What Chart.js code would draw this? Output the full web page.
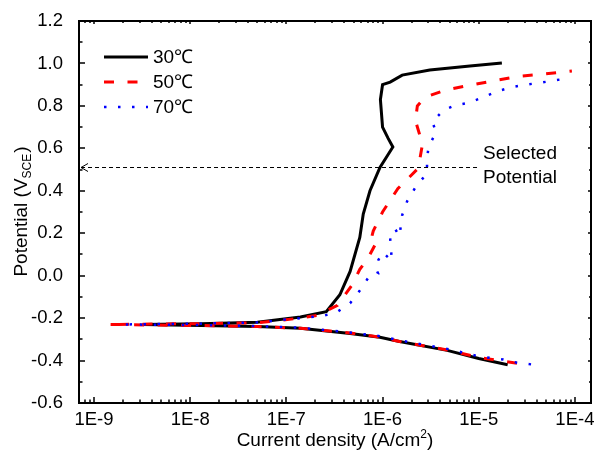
<!DOCTYPE html>
<html>
<head>
<meta charset="utf-8">
<script src="https://cdn.jsdelivr.net/npm/chart.js@4.4.1/dist/chart.umd.min.js"></script>
<style>
    body { margin: 0; background: #ffffff; }
    #wrap { width: 597px; height: 452px; }
</style>
</head>
<body>
<div id="wrap"><canvas id="polChart"></canvas></div>
<script>
// Series labels
let seriesLabels = ['30℃', '50℃', '70℃'];

// 30 ℃ curve, in scan order (cathodic branch -> Ecorr -> anodic branch)
let cur30 = [2.0e-5, 1.0e-5, 4.7e-6, 1.5e-6, 9.4e-7, 4.6e-7, 1.4e-7, 5e-8, 1.3e-8, 3.2e-9,
    1.3e-8, 5e-8, 1.4e-7, 2.6e-7, 3.6e-7, 4.6e-7, 5.8e-7, 6.3e-7, 7.4e-7, 9.4e-7,
    1.28e-6, 1.14e-6, 1.0e-6, 9.5e-7, 1.0e-6, 1.2e-6, 1.6e-6, 3.1e-6, 8.1e-6, 1.74e-5];
let pot30 = [-0.42, -0.39, -0.352, -0.31, -0.29, -0.272, -0.248, -0.24, -0.235, -0.23,
    -0.226, -0.22, -0.195, -0.17, -0.09, 0.02, 0.18, 0.29, 0.40, 0.51,
    0.606, 0.648, 0.70, 0.83, 0.90, 0.912, 0.945, 0.969, 0.988, 1.002];

// 50 ℃ curve
let cur50 = [2.5e-5, 1.0e-5, 4.7e-6, 1.5e-6, 9.4e-7, 4.6e-7, 1.4e-7, 5e-8, 1.3e-8, 1.4e-9,
    1.3e-8, 5e-8, 1.4e-7, 2.1e-7, 3.4e-7, 4.8e-7, 5.8e-7, 6.6e-7, 7.4e-7, 8.3e-7,
    7.4e-7, 8.0e-7, 1.0e-6, 1.44e-6, 2.35e-6, 2.6e-6, 2.2e-6, 2.3e-6, 2.75e-6, 4.5e-6,
    8.7e-6, 1.5e-5, 2.7e-5, 4.7e-5, 9.3e-5];
let pot50 = [-0.413, -0.385, -0.35, -0.31, -0.29, -0.27, -0.248, -0.24, -0.235, -0.23,
    -0.226, -0.222, -0.2, -0.187, -0.14, -0.045, 0.03, 0.065, 0.10, 0.143,
    0.15, 0.21, 0.30, 0.41, 0.506, 0.62, 0.73, 0.80, 0.84, 0.875,
    0.90, 0.92, 0.94, 0.95, 0.964];

// 70 ℃ curve
let cur70 = [3.5e-5, 2.5e-5, 1.8e-5, 1.0e-5, 4.7e-6, 1.5e-6, 9.4e-7, 4.6e-7, 1.4e-7, 5e-8,
    1.3e-8, 1.95e-9, 1.3e-8, 5e-8, 1.4e-7, 2.4e-7, 3.4e-7, 4.6e-7, 5.8e-7, 7.1e-7,
    9.0e-7, 8.5e-7, 9.0e-7, 1.0e-6, 1.25e-6, 1.2e-6, 1.35e-6, 1.5e-6, 1.6e-6, 1.8e-6,
    2.2e-6, 2.9e-6, 2.9e-6, 3.0e-6, 3.6e-6, 3.3e-6, 4.3e-6, 5.8e-6, 7.8e-6, 1.1e-5,
    1.6e-5, 2.2e-5, 3.1e-5, 4.5e-5, 6.1e-5, 8.5e-5];
let pot70 = [-0.418, -0.41, -0.395, -0.38, -0.345, -0.305, -0.285, -0.268, -0.245, -0.238,
    -0.233, -0.23, -0.226, -0.22, -0.2, -0.19, -0.17, -0.13, -0.07, -0.01,
    0.01, 0.035, 0.072, 0.11, 0.07, 0.176, 0.22, 0.186, 0.285, 0.35,
    0.417, 0.483, 0.544, 0.606, 0.676, 0.724, 0.78, 0.804, 0.814, 0.84,
    0.87, 0.888, 0.90, 0.91, 0.92, 0.93];

// Axis ticks
let xTickValues = [1e-9, 1e-8, 1e-7, 1e-6, 1e-5, 1e-4];
let xTickLabels = ['1E-9', '1E-8', '1E-7', '1E-6', '1E-5', '1E-4'];
let yMin = -0.6;
let yMax = 1.2;
let yStep = 0.2;

// Annotation: selected potential arrow
let selectedPotential = 0.51;
let arrowStartCurrent = 9.6e-6;
let noteLines = ['Selected', 'Potential'];

let fontFamily = 'Arial, "Liberation Sans", sans-serif';

// Turns two arrays into the {x, y} points that Chart.js expects
function toPoints(xs, ys) {
    let pts = [];
    for (let i = 0; i < xs.length; i++) {
        pts.push({ x: xs[i], y: ys[i] });
    }
    return pts;
}

// Draws the frame, inward ticks, legend, axis titles and the arrow note
let decorPlugin = {
    id: 'decor',
    afterDraw: function (chart) {
        let ctx = chart.ctx;
        let area = chart.chartArea;
        let xs = chart.scales.x;
        let ys = chart.scales.y;
        let L = Math.round(area.left);
        let R = Math.round(area.right);
        let T = Math.round(area.top);
        let B = Math.round(area.bottom);

        ctx.save();
        ctx.setLineDash([]);
        ctx.globalAlpha = 1;
        ctx.globalCompositeOperation = 'source-over';
        ctx.strokeStyle = '#000';
        ctx.fillStyle = '#000';

        // Frame, as filled bars
        ctx.fillRect(L - 1, T - 1, R - L + 2, 2);
        ctx.fillRect(L - 1, B - 1, R - L + 2, 2);
        ctx.fillRect(L - 1, T - 1, 2, B - T + 2);
        ctx.fillRect(R - 1, T - 1, 2, B - T + 2);

        // Y ticks (major every 0.2, minor every 0.1)
        for (let k = 0; k <= Math.round((yMax - yMin) / (yStep / 2)); k++) {
            let v = yMin + k * yStep / 2;
            let py = Math.round(ys.getPixelForValue(v));
            let major = k % 2 === 0;
            ctx.fillRect(L, py - 0.75, major ? 6 : 3.5, 1.5);
            ctx.fillRect(R - (major ? 3 : 2), py - 0.75, major ? 3 : 2, 1.5);
        }

        // X ticks (decades plus 2..9 minors)
        for (let e = -10; e <= -4; e++) {
            for (let m = 1; m <= 9; m++) {
                let v = m * Math.pow(10, e);
                let px = xs.getPixelForValue(v);
                if (px < L + 1 || px > R - 1) {
                    continue;
                }
                px = Math.round(px);
                let major = m === 1;
                ctx.fillRect(px - 0.75, B - (major ? 6 : 3.5), 1.5, major ? 6 : 3.5);
                ctx.fillRect(px - 0.75, T, 1.5, major ? 3 : 2);
            }
        }

        // Selected potential arrow (dashed line with open head)
        let ay = Math.round(ys.getPixelForValue(selectedPotential)) + 0.5;
        let ax = xs.getPixelForValue(arrowStartCurrent);
        ctx.lineWidth = 1;
        ctx.setLineDash([4, 3]);
        ctx.beginPath();
        ctx.moveTo(ax, ay);
        ctx.lineTo(L + 2, ay);
        ctx.stroke();
        ctx.setLineDash([]);
        ctx.beginPath();
        ctx.moveTo(L + 9, ay - 4);
        ctx.lineTo(L + 2, ay);
        ctx.lineTo(L + 9, ay + 4);
        ctx.stroke();

        ctx.font = '19px ' + fontFamily;
        ctx.textBaseline = 'middle';
        ctx.textAlign = 'left';
        ctx.fillText(noteLines[0], ax + 6, ay - 14);
        ctx.fillText(noteLines[1], ax + 6, ay + 10);

        // Legend
        let legendY = [57, 82, 107];
        let sets = chart.data.datasets;
        for (let i = 0; i < sets.length; i++) {
            ctx.strokeStyle = sets[i].borderColor;
            ctx.lineWidth = sets[i].borderWidth;
            ctx.setLineDash(sets[i].borderDash || []);
            ctx.beginPath();
            ctx.moveTo(L + 25, legendY[i]);
            ctx.lineTo(L + 69, legendY[i]);
            ctx.stroke();
            ctx.setLineDash([]);
            ctx.fillText(sets[i].label, L + 74, legendY[i] + 1);
        }

        // X axis title with superscript
        ctx.textAlign = 'left';
        ctx.textBaseline = 'alphabetic';
        let big = '19px ' + fontFamily;
        let small = '12px ' + fontFamily;
        ctx.font = big;
        let t1 = 'Current density (A/cm';
        let w1 = ctx.measureText(t1).width;
        ctx.font = small;
        let w2 = ctx.measureText('2').width;
        ctx.font = big;
        let w3 = ctx.measureText(')').width;
        let cx = (L + R) / 2 - (w1 + w2 + w3) / 2;
        let base = 446;
        ctx.fillText(t1, cx, base);
        ctx.font = small;
        ctx.fillText('2', cx + w1, base - 8);
        ctx.font = big;
        ctx.fillText(')', cx + w1 + w2, base);

        // Y axis title with subscript, rotated
        ctx.save();
        ctx.translate(27, (T + B) / 2);
        ctx.rotate(-Math.PI / 2);
        let s1 = 'Potential (V';
        ctx.font = big;
        let v1 = ctx.measureText(s1).width;
        ctx.font = small;
        let v2 = ctx.measureText('SCE').width;
        ctx.font = big;
        let v3 = ctx.measureText(')').width;
        let sx = -(v1 + v2 + v3) / 2;
        ctx.fillText(s1, sx, 0);
        ctx.font = small;
        ctx.fillText('SCE', sx + v1, 4);
        ctx.font = big;
        ctx.fillText(')', sx + v1 + v2 + 1, 0);
        ctx.restore();

        ctx.restore();
    }
};

function buildChart() {
    let ctx = document.getElementById('polChart').getContext('2d');

    new Chart(ctx, {
        type: 'scatter',
        data: {
            datasets: [{
                label: seriesLabels[0],
                data: toPoints(cur30, pot30),
                borderColor: '#000000',
                borderWidth: 3,
                order: 3
            }, {
                label: seriesLabels[1],
                data: toPoints(cur50, pot50),
                borderColor: '#ff0000',
                borderWidth: 3,
                borderDash: [10, 13.5],
                order: 2
            }, {
                label: seriesLabels[2],
                data: toPoints(cur70, pot70),
                borderColor: '#0000ff',
                borderWidth: 2.5,
                borderDash: [2.5, 11.5],
                order: 1
            }]
        },
        options: {
            responsive: true,
            maintainAspectRatio: false,
            animation: false,
            showLine: true,
            elements: {
                point: { radius: 0, hoverRadius: 0 },
                line: { tension: 0, fill: false, borderCapStyle: 'butt' }
            },
            layout: { padding: { left: 0, top: 21, right: 6, bottom: 0 } },
            plugins: {
                legend: { display: false },
                tooltip: { enabled: false }
            },
            scales: {
                x: {
                    type: 'logarithmic',
                    min: 6.98e-10,
                    max: 1.47e-4,
                    grid: { display: false },
                    border: { display: false },
                    afterBuildTicks: function (scale) {
                        scale.ticks = xTickValues.map(function (v) { return { value: v }; });
                    },
                    afterFit: function (scale) { scale.height = 49; },
                    ticks: {
                        autoSkip: false,
                        maxRotation: 0,
                        padding: -2,
                        color: '#000',
                        font: { family: fontFamily, size: 18.5 },
                        callback: function (value, index) { return xTickLabels[index]; }
                    }
                },
                y: {
                    min: yMin,
                    max: yMax,
                    grid: { display: false },
                    border: { display: false },
                    afterFit: function (scale) { scale.width = 79; },
                    ticks: {
                        stepSize: yStep,
                        padding: 8,
                        color: '#000',
                        font: { family: fontFamily, size: 18.5 },
                        callback: function (value) { return value.toFixed(1); }
                    }
                }
            }
        },
        plugins: [decorPlugin]
    });
}

buildChart();
</script>
</body>
</html>
